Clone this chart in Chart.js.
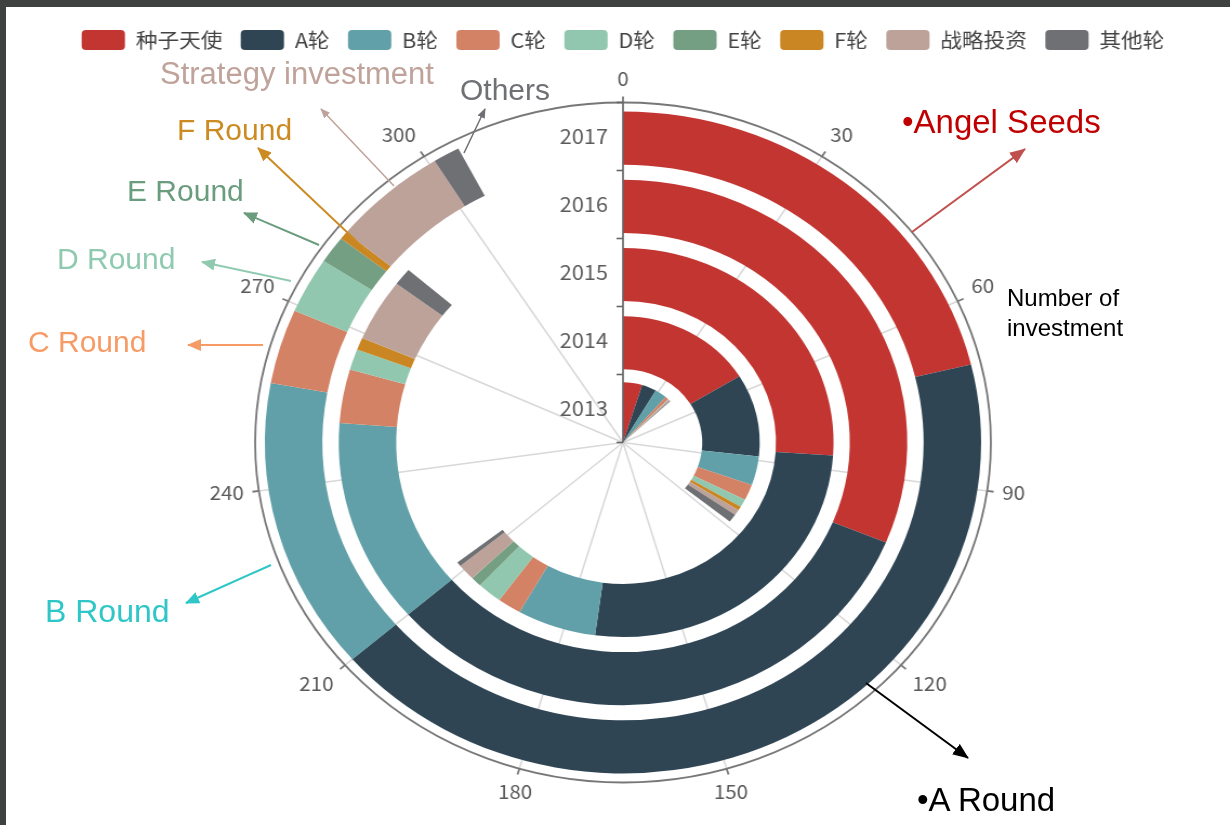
<!DOCTYPE html>
<html>
<head>
<meta charset="utf-8">
<script src="https://cdn.jsdelivr.net/npm/chart.js@4.4.0/dist/chart.umd.min.js"></script>
<style>
  html, body { margin: 0; padding: 0; background: #fff; }
  body { width: 1230px; height: 825px; overflow: hidden; position: relative; }
  #stage { position: absolute; left: 0; top: 0; width: 1230px; height: 825px;
           transform: scaleX(1.082); transform-origin: 623px 0; }
  #notes { position: absolute; left: 0; top: 0; }
  .strip { position: absolute; background: #3d4140; }
</style>
</head>
<body>
<div id="stage"><canvas id="c" width="1230" height="825"></canvas></div>
<svg id="notes" width="1230" height="825" xmlns="http://www.w3.org/2000/svg"
     font-family="'Liberation Sans', Arial, sans-serif">
  <defs>
    <marker id="mTaupe" markerWidth="10" markerHeight="8" refX="9" refY="4" orient="auto" markerUnits="userSpaceOnUse"><path d="M0,0 L10,4 L0,8 z" fill="#bfa39a"/></marker>
    <marker id="mGray" markerWidth="10" markerHeight="8" refX="9" refY="4" orient="auto" markerUnits="userSpaceOnUse"><path d="M0,0 L10,4 L0,8 z" fill="#6e7074"/></marker>
    <marker id="mGold" markerWidth="14" markerHeight="12" refX="13" refY="6" orient="auto" markerUnits="userSpaceOnUse"><path d="M0,0 L14,6 L0,12 z" fill="#cc8b22"/></marker>
    <marker id="mGreen" markerWidth="14" markerHeight="12" refX="13" refY="6" orient="auto" markerUnits="userSpaceOnUse"><path d="M0,0 L14,6 L0,12 z" fill="#6a9c7e"/></marker>
    <marker id="mMint" markerWidth="14" markerHeight="12" refX="13" refY="6" orient="auto" markerUnits="userSpaceOnUse"><path d="M0,0 L14,6 L0,12 z" fill="#8fcab0"/></marker>
    <marker id="mOrange" markerWidth="14" markerHeight="12" refX="13" refY="6" orient="auto" markerUnits="userSpaceOnUse"><path d="M0,0 L14,6 L0,12 z" fill="#f79b66"/></marker>
    <marker id="mCyan" markerWidth="14" markerHeight="12" refX="13" refY="6" orient="auto" markerUnits="userSpaceOnUse"><path d="M0,0 L14,6 L0,12 z" fill="#2fc6c8"/></marker>
    <marker id="mRed" markerWidth="16" markerHeight="13" refX="15" refY="6.5" orient="auto" markerUnits="userSpaceOnUse"><path d="M0,0 L16,6.5 L0,13 z" fill="#c0504d"/></marker>
    <marker id="mBlack" markerWidth="16" markerHeight="13" refX="15" refY="6.5" orient="auto" markerUnits="userSpaceOnUse"><path d="M0,0 L16,6.5 L0,13 z" fill="#000"/></marker>
  </defs>
  <line x1="394" y1="186" x2="321" y2="109" stroke="#bfa39a" stroke-width="1.5" marker-end="url(#mTaupe)"/>
  <line x1="464" y1="153" x2="485" y2="109" stroke="#6e7074" stroke-width="1.5" marker-end="url(#mGray)"/>
  <line x1="386" y1="269" x2="258" y2="148" stroke="#cc8b22" stroke-width="2" marker-end="url(#mGold)"/>
  <line x1="319" y1="245" x2="244" y2="213" stroke="#6a9c7e" stroke-width="2" marker-end="url(#mGreen)"/>
  <line x1="291" y1="281" x2="202" y2="262" stroke="#8fcab0" stroke-width="2" marker-end="url(#mMint)"/>
  <line x1="263" y1="345" x2="188" y2="345" stroke="#f79b66" stroke-width="2" marker-end="url(#mOrange)"/>
  <line x1="271" y1="565" x2="186" y2="603" stroke="#2fc6c8" stroke-width="2" marker-end="url(#mCyan)"/>
  <line x1="912" y1="232" x2="1025" y2="149" stroke="#c0504d" stroke-width="2" marker-end="url(#mRed)"/>
  <line x1="866" y1="683" x2="968" y2="758" stroke="#000" stroke-width="2" marker-end="url(#mBlack)"/>
  <text x="160" y="84" font-size="31" fill="#bfa39a">Strategy investment</text>
  <text x="460" y="100" font-size="30" fill="#6e7074">Others</text>
  <text x="177" y="140" font-size="30" fill="#cc8b22">F Round</text>
  <text x="127" y="201" font-size="30" fill="#6a9c7e">E Round</text>
  <text x="57" y="269" font-size="30" fill="#8fcab0">D Round</text>
  <text x="28" y="352" font-size="30" fill="#f79b66">C Round</text>
  <text x="45" y="622" font-size="32" fill="#2fc6c8">B Round</text>
  <text x="902" y="133" font-size="33" fill="#c00000">•Angel Seeds</text>
  <text x="1007" y="306" font-size="24" fill="#000">Number of</text>
  <text x="1007" y="336" font-size="24" fill="#000">investment</text>
  <text x="917" y="811" font-size="33" fill="#000">•A Round</text>
</svg>
<div class="strip" style="left:0;top:0;width:1230px;height:7px"></div>
<div class="strip" style="left:0;top:0;width:6px;height:825px"></div>
<script>
// ---------------- data ----------------
const years = ['2013', '2014', '2015', '2016', '2017'];
const rounds = ['种子天使', 'A轮', 'B轮', 'C轮', 'D轮', 'E轮', 'F轮', '战略投资', '其他轮'];
// values per year (2013 … 2017), number of investments
const seedAngel = [15.7, 53.5, 86, 103, 70];
const roundA    = [12, 34.8, 86, 107, 140];
const roundB    = [9.8, 12.2, 20, 41.4, 47];
const roundC    = [2.8, 6.7, 6, 10.9, 12];
const roundD    = [0.6, 3.3, 6.2, 4.2, 9];
const roundE    = [0, 0, 2.7, 0, 4.4];
const roundF    = [0, 1.7, 0, 2.5, 1.2];
const strategic = [1.2, 2.3, 4.5, 12.6, 17.3];
const others    = [0.6, 3.5, 1.2, 3.5, 4];
const angleTicks = [0, 30, 60, 90, 120, 150, 180, 210, 240, 270, 300];
const angleMax = 330;

const series = [seedAngel, roundA, roundB, roundC, roundD, roundE, roundF, strategic, others];
const colors = ['#c23531', '#2f4554', '#61a0a8', '#d48265', '#91c7ae', '#749f83', '#ca8622', '#bda29a', '#6e7074'];

// ring thickness weights (outer -> inner): spacer, 2017, gap, 2016, gap, 2015, gap, 2014, gap, 2013
const ringWeights = { outerGap: 9, bar: 53, gap: 15, lastGap: 13, inner: 60 };

function spacer(w) {
  return { label: 'gap', data: [1], backgroundColor: ['rgba(0,0,0,0)'], borderWidth: 0,
           weight: w, circumference: 360, hoverOffset: 0 };
}
function yearRing(i, w) {
  const vals = series.map(s => s[i]);
  const total = vals.reduce((a, b) => a + b, 0);
  return { label: years[i], data: vals, backgroundColor: colors, borderWidth: 0,
           weight: w, circumference: 360 * total / angleMax, hoverOffset: 0 };
}

const datasets = [spacer(ringWeights.outerGap)];
for (let i = years.length - 1; i >= 0; i--) {
  if (i === 0) {
    datasets.push(yearRing(i, ringWeights.inner));
  } else {
    datasets.push(yearRing(i, ringWeights.bar));
    datasets.push(spacer(i === 1 ? ringWeights.lastGap : ringWeights.gap));
  }
}

const FONT = "'Noto Sans CJK SC', 'Noto Sans', sans-serif";

function toAng(v) { return -Math.PI / 2 + v / angleMax * Math.PI * 2; }

const polarAxes = {
  id: 'polarAxes',
  beforeDatasetsDraw(chart) {
    const arc = chart.getDatasetMeta(0).data[0];
    const cx = arc.x, cy = arc.y, R = arc.outerRadius;
    const ctx = chart.ctx;
    ctx.save();
    ctx.strokeStyle = '#d8d8d8';
    ctx.lineWidth = 1.5;
    angleTicks.forEach(v => {
      const a = toAng(v);
      ctx.beginPath();
      ctx.moveTo(cx, cy);
      ctx.lineTo(cx + R * Math.cos(a), cy + R * Math.sin(a));
      ctx.stroke();
    });
    ctx.restore();
  },
  afterDatasetsDraw(chart) {
    const arc = chart.getDatasetMeta(0).data[0];
    const cx = arc.x, cy = arc.y, R = arc.outerRadius;
    const ctx = chart.ctx;
    ctx.save();
    // angle axis circle
    ctx.strokeStyle = '#777';
    ctx.lineWidth = 1.8;
    ctx.beginPath();
    ctx.arc(cx, cy, R, 0, Math.PI * 2);
    ctx.stroke();
    // angle ticks + labels
    ctx.font = '19px ' + FONT;
    ctx.fillStyle = '#5a5a5a';
    angleTicks.forEach(v => {
      const a = toAng(v);
      const dx = Math.cos(a), dy = Math.sin(a);
      ctx.beginPath();
      ctx.moveTo(cx + R * dx, cy + R * dy);
      ctx.lineTo(cx + (R + 6) * dx, cy + (R + 6) * dy);
      ctx.stroke();
      const lr = R + 14;
      const px = cx + lr * dx, py = cy + lr * dy;
      ctx.textAlign = Math.abs(dx) < 0.3 ? 'center' : (dx > 0 ? 'left' : 'right');
      ctx.textBaseline = Math.abs(dy) < 0.3 ? 'middle' : (dy > 0 ? 'top' : 'bottom');
      ctx.fillText(String(v), px, py);
    });
    // radius axis
    ctx.strokeStyle = '#666';
    ctx.lineWidth = 1.6;
    ctx.beginPath();
    ctx.moveTo(cx, cy);
    ctx.lineTo(cx, cy - R);
    ctx.stroke();
    const n = years.length;
    for (let k = 0; k <= n; k++) {
      const y = cy - R * k / n;
      ctx.beginPath();
      ctx.moveTo(cx - 6, y);
      ctx.lineTo(cx, y);
      ctx.stroke();
    }
    ctx.font = '20px ' + FONT;
    ctx.fillStyle = '#5a5a5a';
    ctx.textAlign = 'right';
    ctx.textBaseline = 'middle';
    years.forEach((yr, k) => {
      ctx.fillText(yr, cx - 14, cy - R * (k + 0.5) / n);
    });
    ctx.restore();
  }
};

new Chart(document.getElementById('c'), {
  type: 'doughnut',
  data: { labels: rounds, datasets },
  options: {
    responsive: false,
    animation: false,
    cutout: 0,
    radius: 340,
    layout: { padding: { top: 13, left: 16, right: 0, bottom: 0 } },
    plugins: {
      tooltip: { enabled: false },
      legend: {
        position: 'top',
        labels: {
          boxWidth: 40,
          boxHeight: 20,
          padding: 17,
          useBorderRadius: true,
          borderRadius: 4,
          color: '#444',
          font: { family: FONT, size: 20 },
          generateLabels: () => rounds.map((r, i) => ({
            text: r, fillStyle: colors[i], strokeStyle: colors[i], lineWidth: 0,
            hidden: false, index: i, fontColor: '#444', borderRadius: 4
          }))
        }
      }
    }
  },
  plugins: [polarAxes]
});
</script>
</body>
</html>
